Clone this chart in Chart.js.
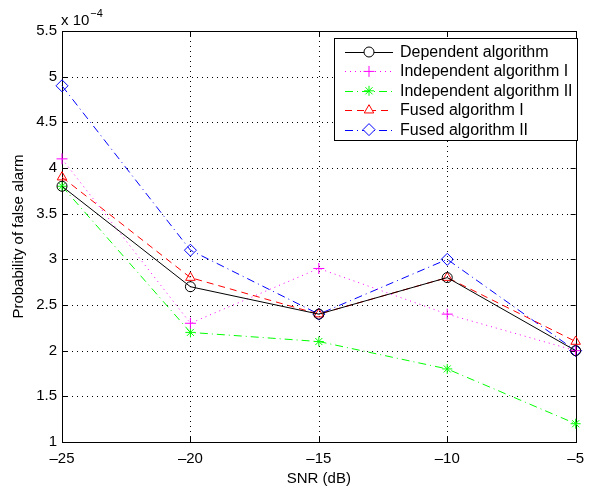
<!DOCTYPE html>
<html>
<head>
<meta charset="utf-8">
<script src="https://cdn.jsdelivr.net/npm/chart.js@4.4.0/dist/chart.umd.min.js"></script>
<style>
  html, body { margin: 0; padding: 0; background: #fff; }
  #wrap { width: 592px; height: 489px; }
</style>
</head>
<body>
<div id="wrap"><canvas id="lineChart" width="592" height="489"></canvas></div>
<script>
// SNR in dB, probabilities in units of 1e-4
const snr = [-25, -20, -15, -10, -5];
const dependent = [3.8, 2.7, 2.4, 2.8, 2.0];
const independent1 = [4.1, 2.3, 2.9, 2.4, 2.0];
const independent2 = [3.8, 2.2, 2.1, 1.8, 1.2];
const fused1 = [3.9, 2.8, 2.4, 2.8, 2.1];
const fused2 = [4.9, 3.1, 2.4, 3.0, 2.0];
const xTicks = [-25, -20, -15, -10, -5];
const yTicks = [1, 1.5, 2, 2.5, 3, 3.5, 4, 4.5, 5, 5.5];

const FONT = '"Liberation Sans", Arial, Helvetica, sans-serif';

function pts(ys) { return snr.map((x, i) => ({ x: x, y: ys[i] })); }

function series(label, ys, color, dash, style, radius) {
  return {
    label: label,
    data: pts(ys),
    borderColor: color,
    borderWidth: 1,
    borderDash: dash,
    pointStyle: style,
    pointRadius: radius,
    pointBorderColor: color,
    pointBackgroundColor: 'rgba(0,0,0,0)',
    pointBorderWidth: 1,
    fill: false,
    tension: 0,
    clip: false
  };
}

// grid, box, inward ticks, legend and exponent label
const matlabFrame = {
  id: 'matlabFrame',
  beforeDatasetsDraw(chart) {
    const { ctx, chartArea: a, scales: { x, y } } = chart;
    ctx.save();
    ctx.strokeStyle = '#000';
    ctx.lineWidth = 1;
    ctx.setLineDash([1, 4]);
    ctx.beginPath();
    xTicks.slice(1, -1).forEach(v => {
      const px = Math.round(x.getPixelForValue(v)) + 0.5;
      ctx.moveTo(px, a.top); ctx.lineTo(px, a.bottom);
    });
    yTicks.slice(1, -1).forEach(v => {
      const py = Math.round(y.getPixelForValue(v)) + 0.5;
      ctx.moveTo(a.left, py); ctx.lineTo(a.right, py);
    });
    ctx.stroke();
    ctx.setLineDash([]);
    ctx.beginPath();
    xTicks.forEach(v => {
      const px = Math.round(x.getPixelForValue(v)) + 0.5;
      ctx.moveTo(px, a.bottom); ctx.lineTo(px, a.bottom - 5);
      ctx.moveTo(px, a.top); ctx.lineTo(px, a.top + 5);
    });
    yTicks.forEach(v => {
      const py = Math.round(y.getPixelForValue(v)) + 0.5;
      ctx.moveTo(a.left, py); ctx.lineTo(a.left + 5, py);
      ctx.moveTo(a.right, py); ctx.lineTo(a.right - 5, py);
    });
    ctx.stroke();
    ctx.strokeRect(Math.round(a.left) + 0.5, Math.round(a.top) + 0.5,
      Math.round(a.right - a.left), Math.round(a.bottom - a.top));
    ctx.restore();
  },
  afterDraw(chart) {
    const { ctx, chartArea: a } = chart;
    ctx.save();
    // exponent label
    ctx.fillStyle = '#000';
    ctx.textBaseline = 'alphabetic';
    ctx.textAlign = 'left';
    ctx.font = '15px ' + FONT;
    ctx.fillText('x 10', a.left - 1, 25);
    const w = ctx.measureText('x 10').width;
    ctx.font = '11px ' + FONT;
    ctx.fillText('\u22124', a.left - 1 + w + 1, 17);

    // legend
    const bx = 334.5, by = 38.5, bw = 243, bh = 102;
    ctx.fillStyle = '#fff';
    ctx.fillRect(bx, by, bw, bh);
    ctx.strokeStyle = '#000';
    ctx.lineWidth = 1;
    ctx.strokeRect(bx, by, bw, bh);
    chart.data.datasets.forEach((ds, i) => {
      const cy = 52 + i * 19.4;
      ctx.strokeStyle = ds.borderColor;
      ctx.setLineDash(ds.borderDash || []);
      ctx.beginPath();
      ctx.moveTo(345, Math.round(cy) + 0.5);
      ctx.lineTo(393, Math.round(cy) + 0.5);
      ctx.stroke();
      ctx.setLineDash([]);
      ctx.fillStyle = '#fff';
      ctx.strokeStyle = ds.borderColor;
      Chart.helpers.drawPoint(ctx, { pointStyle: ds.pointStyle, radius: ds.pointRadius, borderWidth: 1, rotation: 0 }, 369, cy);
      ctx.fillStyle = '#000';
      ctx.font = '16px ' + FONT;
      ctx.textBaseline = 'middle';
      ctx.fillText(ds.label, 400, cy + 0.5);
    });
    ctx.restore();
  }
};

new Chart(document.getElementById('lineChart'), {
  type: 'line',
  data: {
    datasets: [
      series('Dependent algorithm', dependent, '#000000', [], 'circle', 5),
      series('Independent algorithm I', independent1, '#ff00ff', [1, 4], 'cross', 5.5),
      series('Independent algorithm II', independent2, '#00ff00', [8, 4, 1, 4], 'star', 5),
      series('Fused algorithm I', fused1, '#ff0000', [7, 5], 'triangle', 5.5),
      series('Fused algorithm II', fused2, '#0000ff', [8, 4, 1, 4], 'rectRot', 6)
    ]
  },
  options: {
    responsive: false,
    animation: false,
    layout: { padding: { top: 31, right: 8, left: 0, bottom: 0 } },
    plugins: {
      legend: { display: false },
      tooltip: { enabled: false }
    },
    scales: {
      x: {
        type: 'linear',
        min: -25,
        max: -5,
        afterFit: s => { s.height = 47; },
        afterBuildTicks: s => { s.ticks = xTicks.map(v => ({ value: v })); },
        grid: { display: false, drawTicks: false },
        border: { display: false },
        ticks: {
          color: '#000',
          padding: 8,
          maxRotation: 0,
          font: { family: FONT, size: 15 },
          callback: v => (v < 0 ? '\u2013' + Math.abs(v) : String(v))
        },
        title: {
          display: true,
          text: 'SNR (dB)',
          color: '#000',
          padding: { top: 0, bottom: 1 },
          font: { family: FONT, size: 15 }
        }
      },
      y: {
        type: 'linear',
        min: 1,
        max: 5.5,
        afterFit: s => { s.width = 62; },
        afterBuildTicks: s => { s.ticks = yTicks.map(v => ({ value: v })); },
        grid: { display: false, drawTicks: false },
        border: { display: false },
        ticks: {
          color: '#000',
          padding: 5,
          font: { family: FONT, size: 15 },
          callback: v => String(v)
        },
        title: {
          display: true,
          text: 'Probability of false alarm',
          color: '#000',
          padding: { top: 10, bottom: 0 },
          font: { family: FONT, size: 15 }
        }
      }
    }
  },
  plugins: [matlabFrame]
});
</script>
</body>
</html>
